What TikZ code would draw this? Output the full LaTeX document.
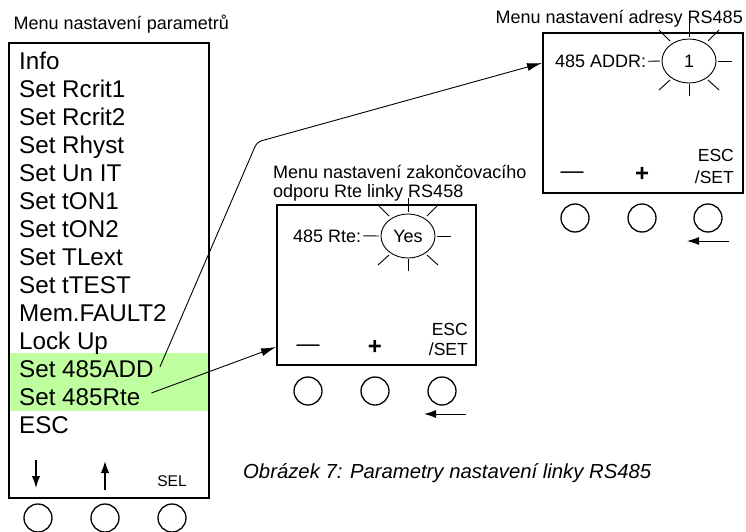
\documentclass[tikz,border=0pt]{standalone}
\usepackage{fontspec}
\setmainfont{Liberation Sans}
\usetikzlibrary{arrows.meta,shapes.geometric}
\definecolor{hl}{RGB}{192,255,160}
\begin{document}
\begin{tikzpicture}[x=1pt,y=-1pt,
  item/.style={inner sep=0pt, anchor=base west, font=\fontsize{24.2}{24.2}\selectfont},
  ttl/.style={inner sep=0pt, font=\fontsize{18}{18}\selectfont},
  lbl/.style={inner sep=0pt, font=\fontsize{18}{18}\selectfont},
  keylbl/.style={inner sep=0pt, font=\fontsize{17.5}{17.5}\selectfont},
  signlbl/.style={inner sep=0pt, font=\fontsize{23}{23}\selectfont},
  panel/.style={draw, line width=1.6pt, inner sep=0pt, anchor=north west},
  btn/.style={draw, circle, line width=1.3pt, minimum size=28pt, inner sep=0pt},
  blink/.style={draw, ellipse, line width=0.9pt, minimum width=54pt, minimum height=44pt, inner sep=0pt, font=\fontsize{18}{18}\selectfont},
  ray/.style={line width=0.9pt},
  conn/.style={line width=0.9pt, -{Latex[length=15pt,width=8pt]}},
  back/.style={line width=1pt, -{Latex[length=12pt,width=8pt]}},
  updown/.style={line width=1.5pt, -{Latex[length=12pt,width=8.5pt]}}
]
\useasboundingbox (0,0) rectangle (746,532);

% ---------- left menu ----------
\node[ttl, anchor=base west] (lt) at (13.5,30) {Menu nastavení parametrů};
\fill[hl] (8,353) rectangle (208,411);
\node[panel, minimum width=200pt, minimum height=455pt] (lbox) at (8,42) {};
\foreach \t [count=\i from 0] in {Info,Set Rcrit1,Set Rcrit2,Set Rhyst,Set Un IT,Set tON1,Set tON2,Set TLext,Set tTEST,Mem.FAULT2,Lock Up,Set 485ADD,Set 485Rte,ESC}
  \node[item] (m\i) at (19,{69.3+28*\i}) {\t};
\coordinate (dA) at (36,460); \coordinate (dB) at (36,488);
\coordinate (uA) at (105,490); \coordinate (uB) at (105,461);
\draw[updown] (dA) -- (dB);
\draw[updown] (uA) -- (uB);
\node[inner sep=0pt, anchor=base, font=\fontsize{15.5}{15.5}\selectfont] (sel) at (172,486) {SEL};
\node[btn] (lb1) at (38,518) {};
\node[btn] (lb2) at (105,518) {};
\node[btn] (lb3) at (172,518) {};

% ---------- middle box (Rte) ----------
\node[ttl, anchor=base west] (mt1) at (273,178.5) {Menu nastavení zakončovacího};
\node[ttl, anchor=base west] (mt2) at (273,197) {odporu Rte linky RS458};
\node[panel, minimum width=199pt, minimum height=160pt] (mbox) at (276,204) {};
\node[lbl, anchor=base west] (rtetxt) at (293,242) {485 Rte:};
\node[blink] (yes) at (408,236) {Yes};
\draw[ray, shorten <=2pt, shorten >=1.5pt] (rtetxt.east) -- (yes.west);
\begin{scope}[shift={(yes.center)}]
  \foreach \a/\b/\c/\d in {0/-24/0/-38, 0/23/0/35, 29/0/43/0, -19/-20/-30/-31, 19/-20/30/-31, -19/19/-30/29, 19/19/30/29}
    \draw[ray] (\a,\b) -- (\c,\d);
\end{scope}
\node[keylbl, anchor=base east] (mesc) at (468,335) {ESC};
\node[keylbl, anchor=base east] (mset) at (468,355.5) {/SET};
\node[signlbl] (mminus) at (308,348) {—};
\node[signlbl, font=\fontsize{24}{24}\selectfont\bfseries] (mplus) at (375,347) {+};
\node[btn] (mb1) at (308,391) {};
\node[btn] (mb2) at (375,391) {};
\node[btn] (mb3) at (442,391) {};
\coordinate (mbA) at (466,414); \coordinate (mbB) at (424,414);
\draw[back] (mbA) -- (mbB);

% ---------- right box (ADDR) ----------
\node[ttl, anchor=base east] (rt) at (743,24) {Menu nastavení adresy RS485};
\node[panel, minimum width=200pt, minimum height=160pt] (rbox) at (542,32) {};
\node[lbl, anchor=base west] (addrtxt) at (555,67.5) {485 ADDR:};
\node[blink] (one) at (689,61) {1};
\draw[ray, shorten <=1.5pt, shorten >=1.5pt] (addrtxt.east) -- (one.west);
\begin{scope}[shift={(one.center)}]
  \foreach \a/\b/\c/\d in {0/-24/0/-38, 0/23/0/35, 29/0/43/0, -19/-20/-30/-31, 19/-20/30/-31, -19/19/-30/29, 19/19/30/29}
    \draw[ray] (\a,\b) -- (\c,\d);
\end{scope}
\node[keylbl, anchor=base east] (resc) at (734,161) {ESC};
\node[keylbl, anchor=base east] (rset) at (734,183) {/SET};
\node[signlbl] (rminus) at (572,175) {—};
\node[signlbl, font=\fontsize{24}{24}\selectfont\bfseries] (rplus) at (642,174) {+};
\node[btn] (rb1) at (575,218) {};
\node[btn] (rb2) at (642,218) {};
\node[btn] (rb3) at (708,218) {};
\coordinate (rbA) at (729,241); \coordinate (rbB) at (687,241);
\draw[back] (rbA) -- (rbB);

% ---------- connectors ----------
\coordinate (addrin) at (542,63);
\coordinate (rtein) at (276,347);
\draw[conn, rounded corners=5pt] ([xshift=6pt,yshift=2pt]m11.east) -- (257,142) -- (addrin);
\draw[conn] ([xshift=11pt,yshift=4pt]m12.east) -- (rtein);

% ---------- caption ----------
\node[inner sep=0pt, anchor=base west, font=\fontsize{20.3}{20.3}\selectfont\itshape] (cap) at (243,478) {Obrázek 7: Parametry nastavení linky RS485};
\end{tikzpicture}
\end{document}
